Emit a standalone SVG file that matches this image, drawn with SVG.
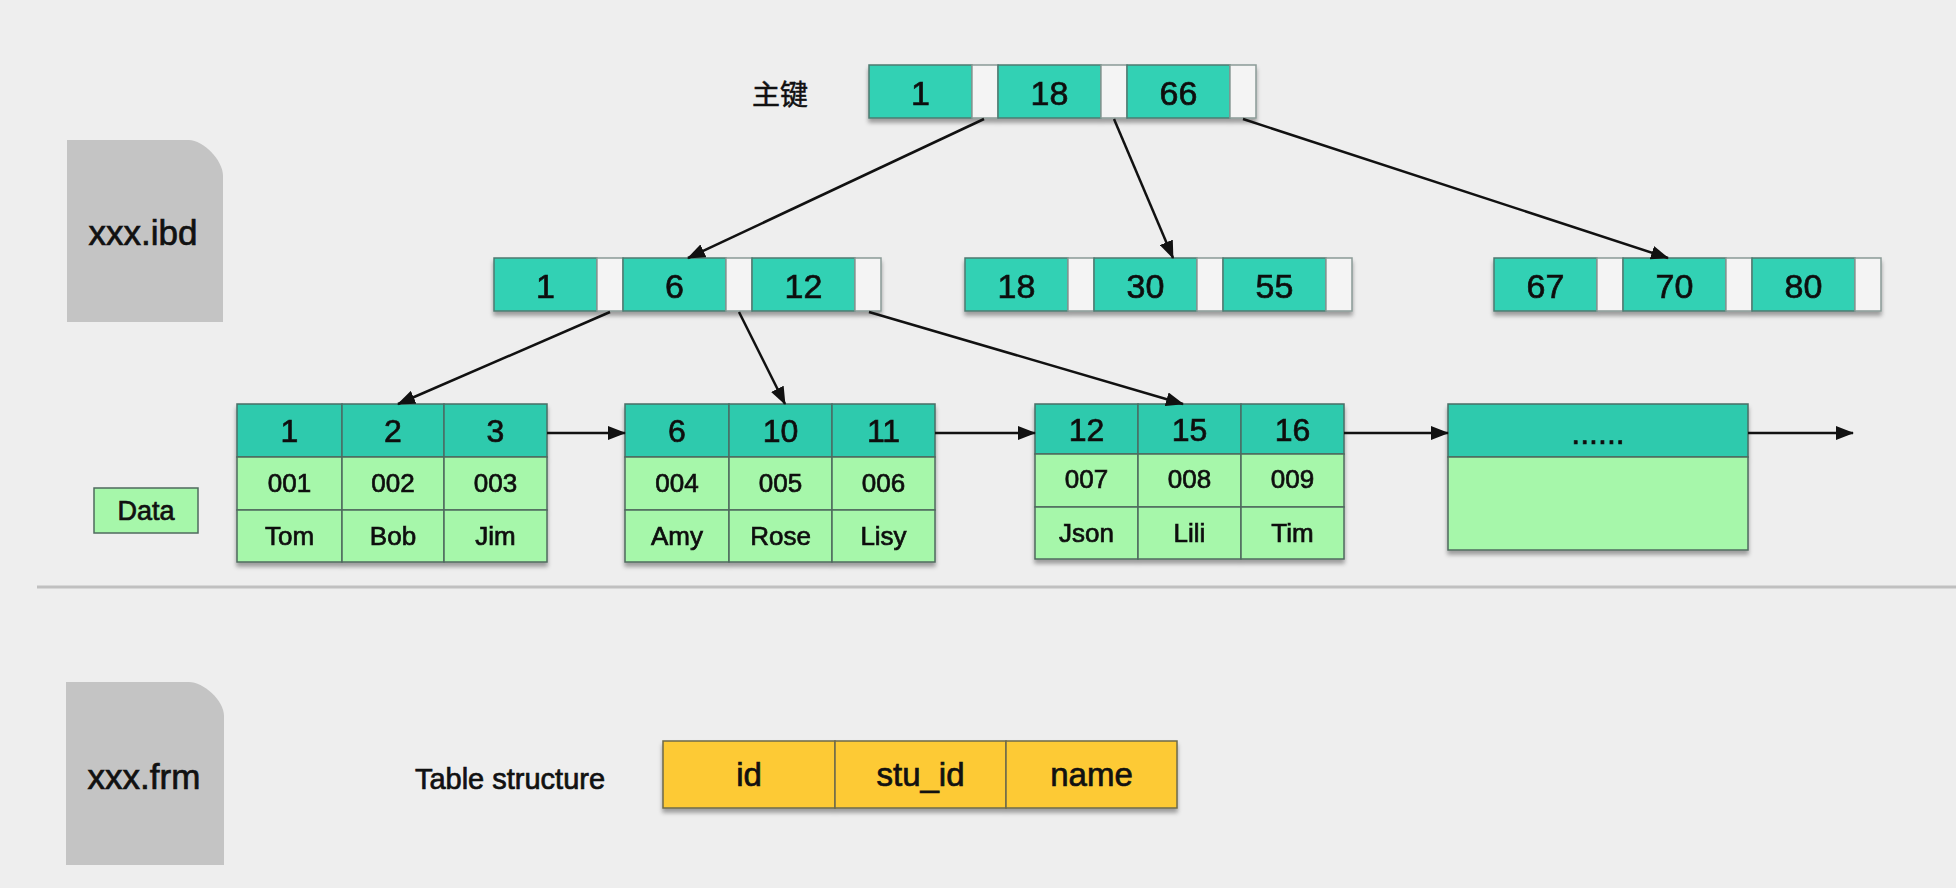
<svg xmlns="http://www.w3.org/2000/svg" width="1956" height="888" viewBox="0 0 1956 888">
<defs>
<filter id="sh" x="-5%" y="-20%" width="110%" height="150%">
<feDropShadow dx="0" dy="4" stdDeviation="2" flood-color="#000" flood-opacity="0.35"/>
</filter>
<marker id="ah" viewBox="0 0 18 14" refX="17" refY="7" markerWidth="18" markerHeight="14" markerUnits="userSpaceOnUse" orient="auto">
<path d="M0,0 L18,7 L0,14 Z" fill="#111"/>
</marker>
<style>
text{font-family:"Liberation Sans",Arial,"Noto Sans CJK SC",sans-serif;fill:#111;stroke:#111;stroke-width:0.7;text-anchor:middle;dominant-baseline:central}
.k{fill:#31d1b4;stroke:#4d7a70;stroke-width:1.5}
.p{fill:#f4f4f4;stroke:#8a9a96;stroke-width:1.5}
.h{fill:#2fcaad;stroke:#4a6e66;stroke-width:1.5}
.g{fill:#a6f7aa;stroke:#4f6a5e;stroke-width:1.5}
.y{fill:#fdca35;stroke:#6d6a4a;stroke-width:1.5}
.file{fill:#c4c4c4}
.t1{font-size:34px}
.t2{font-size:32px}
.t3{font-size:26px}
.t4{font-size:35px}
.c{stroke:#111;stroke-width:2.5;fill:none;marker-end:url(#ah)}
</style>
</defs>
<rect width="1956" height="888" fill="#eeeeee"/>
<line x1="37" y1="587" x2="1956" y2="587" stroke="#c0c0c0" stroke-width="3"/>

<g id="file-ibd">
<path class="file" d="M67,140 H189 C203,140 223,160 223,176 V322 H67 Z"/>
<text class="t4" x="143" y="232">xxx.ibd</text>
</g>
<g id="file-frm">
<path class="file" d="M66,682 H189 C203,682 224,700 224,716 V865 H66 Z"/>
<text class="t4" x="144" y="776">xxx.frm</text>
</g>

<g id="label-pk"><text x="780" y="93" style="font-size:28px;font-family:'Noto Sans CJK SC','Liberation Sans',sans-serif;stroke-width:0.5">主键</text></g>

<g id="root" filter="url(#sh)">
<rect class="k" x="869" y="65" width="103" height="53"/><rect class="p" x="972" y="65" width="26" height="53"/>
<rect class="k" x="998" y="65" width="103" height="53"/><rect class="p" x="1101" y="65" width="26" height="53"/>
<rect class="k" x="1127" y="65" width="103" height="53"/><rect class="p" x="1230" y="65" width="26" height="53"/>
<text class="t1" x="920.5" y="93">1</text><text class="t1" x="1049.5" y="93">18</text><text class="t1" x="1178.5" y="93">66</text>
</g>

<g id="node-1-6-12" filter="url(#sh)">
<rect class="k" x="494" y="258" width="103" height="53"/><rect class="p" x="597" y="258" width="26" height="53"/>
<rect class="k" x="623" y="258" width="103" height="53"/><rect class="p" x="726" y="258" width="26" height="53"/>
<rect class="k" x="752" y="258" width="103" height="53"/><rect class="p" x="855" y="258" width="26" height="53"/>
<text class="t1" x="545.5" y="286">1</text><text class="t1" x="674.5" y="286">6</text><text class="t1" x="803.5" y="286">12</text>
</g>

<g id="node-18-30-55" filter="url(#sh)">
<rect class="k" x="965" y="258" width="103" height="53"/><rect class="p" x="1068" y="258" width="26" height="53"/>
<rect class="k" x="1094" y="258" width="103" height="53"/><rect class="p" x="1197" y="258" width="26" height="53"/>
<rect class="k" x="1223" y="258" width="103" height="53"/><rect class="p" x="1326" y="258" width="26" height="53"/>
<text class="t1" x="1016.5" y="286">18</text><text class="t1" x="1145.5" y="286">30</text><text class="t1" x="1274.5" y="286">55</text>
</g>

<g id="node-67-70-80" filter="url(#sh)">
<rect class="k" x="1494" y="258" width="103" height="53"/><rect class="p" x="1597" y="258" width="26" height="53"/>
<rect class="k" x="1623" y="258" width="103" height="53"/><rect class="p" x="1726" y="258" width="26" height="53"/>
<rect class="k" x="1752" y="258" width="103" height="53"/><rect class="p" x="1855" y="258" width="26" height="53"/>
<text class="t1" x="1545.5" y="286">67</text><text class="t1" x="1674.5" y="286">70</text><text class="t1" x="1803.5" y="286">80</text>
</g>

<g id="label-data">
<rect class="g" x="94" y="488" width="104" height="45"/>
<text x="146" y="511" style="font-size:27px">Data</text>
</g>

<g id="page-1" filter="url(#sh)">
<rect class="h" x="237" y="404" width="105" height="53"/><rect class="h" x="342" y="404" width="102" height="53"/><rect class="h" x="444" y="404" width="103" height="53"/>
<rect class="g" x="237" y="457" width="105" height="53"/><rect class="g" x="342" y="457" width="102" height="53"/><rect class="g" x="444" y="457" width="103" height="53"/>
<rect class="g" x="237" y="510" width="105" height="52"/><rect class="g" x="342" y="510" width="102" height="52"/><rect class="g" x="444" y="510" width="103" height="52"/>
<text class="t2" x="289.5" y="431">1</text><text class="t2" x="393" y="431">2</text><text class="t2" x="495.5" y="431">3</text>
<text class="t3" x="289.5" y="483">001</text><text class="t3" x="393" y="483">002</text><text class="t3" x="495.5" y="483">003</text>
<text class="t3" x="289.5" y="536">Tom</text><text class="t3" x="393" y="536">Bob</text><text class="t3" x="495.5" y="536">Jim</text>
</g>

<g id="page-2" filter="url(#sh)">
<rect class="h" x="625" y="404" width="104" height="53"/><rect class="h" x="729" y="404" width="103" height="53"/><rect class="h" x="832" y="404" width="103" height="53"/>
<rect class="g" x="625" y="457" width="104" height="53"/><rect class="g" x="729" y="457" width="103" height="53"/><rect class="g" x="832" y="457" width="103" height="53"/>
<rect class="g" x="625" y="510" width="104" height="52"/><rect class="g" x="729" y="510" width="103" height="52"/><rect class="g" x="832" y="510" width="103" height="52"/>
<text class="t2" x="677" y="431">6</text><text class="t2" x="780.5" y="431">10</text><text class="t2" x="883.5" y="431">11</text>
<text class="t3" x="677" y="483">004</text><text class="t3" x="780.5" y="483">005</text><text class="t3" x="883.5" y="483">006</text>
<text class="t3" x="677" y="536">Amy</text><text class="t3" x="780.5" y="536">Rose</text><text class="t3" x="883.5" y="536">Lisy</text>
</g>

<g id="page-3" filter="url(#sh)">
<rect class="h" x="1035" y="404" width="103" height="50"/><rect class="h" x="1138" y="404" width="103" height="50"/><rect class="h" x="1241" y="404" width="103" height="50"/>
<rect class="g" x="1035" y="454" width="103" height="53"/><rect class="g" x="1138" y="454" width="103" height="53"/><rect class="g" x="1241" y="454" width="103" height="53"/>
<rect class="g" x="1035" y="507" width="103" height="52"/><rect class="g" x="1138" y="507" width="103" height="52"/><rect class="g" x="1241" y="507" width="103" height="52"/>
<text class="t2" x="1086.5" y="430">12</text><text class="t2" x="1189.5" y="430">15</text><text class="t2" x="1292.5" y="430">16</text>
<text class="t3" x="1086.5" y="479">007</text><text class="t3" x="1189.5" y="479">008</text><text class="t3" x="1292.5" y="479">009</text>
<text class="t3" x="1086.5" y="533">Json</text><text class="t3" x="1189.5" y="533">Lili</text><text class="t3" x="1292.5" y="533">Tim</text>
</g>

<g id="page-4" filter="url(#sh)">
<rect class="h" x="1448" y="404" width="300" height="53"/>
<rect class="g" x="1448" y="457" width="300" height="93"/>
<text class="t2" x="1598" y="433">......</text>
</g>

<g id="table-structure">
<text x="510" y="779" style="font-size:29px">Table structure</text>
<g filter="url(#sh)">
<rect class="y" x="663" y="741" width="172" height="67"/><rect class="y" x="835" y="741" width="171" height="67"/><rect class="y" x="1006" y="741" width="171" height="67"/>
</g>
<text x="749" y="774" style="font-size:33px">id</text><text x="920.5" y="774" style="font-size:33px">stu_id</text><text x="1091.5" y="774" style="font-size:33px">name</text>
</g>

<g id="connectors">
<line class="c" x1="984" y1="119" x2="688" y2="258"/>
<line class="c" x1="1114" y1="119" x2="1173" y2="258"/>
<line class="c" x1="1243" y1="119" x2="1668" y2="258"/>
<line class="c" x1="610" y1="312" x2="398" y2="404"/>
<line class="c" x1="739" y1="312" x2="785" y2="404"/>
<line class="c" x1="869" y1="312" x2="1183" y2="404"/>
<line class="c" x1="547" y1="433" x2="625" y2="433"/>
<line class="c" x1="935" y1="433" x2="1035" y2="433"/>
<line class="c" x1="1344" y1="433" x2="1448" y2="433"/>
<line class="c" x1="1748" y1="433" x2="1853" y2="433"/>
</g>
</svg>
